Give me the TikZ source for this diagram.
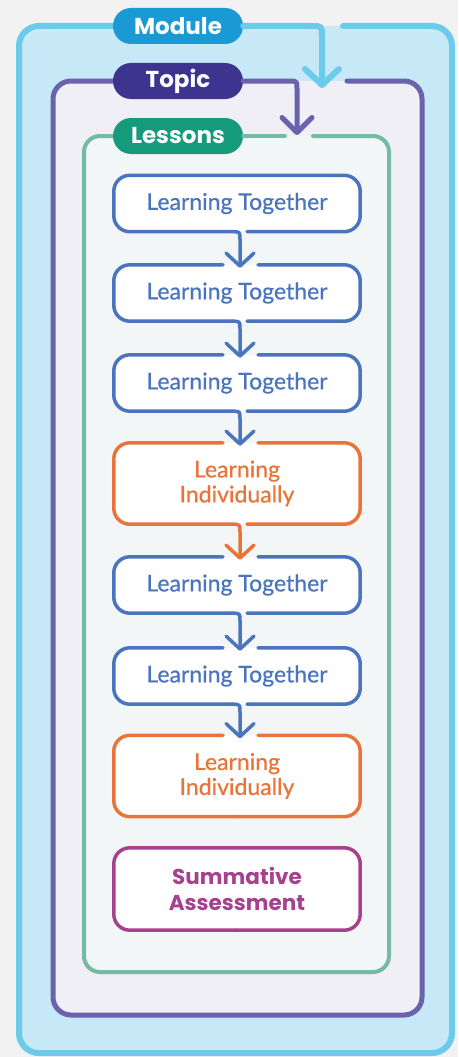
\documentclass[tikz,border=0pt]{standalone}
\usepackage{fontspec}
\setmainfont{Lato}
\newfontfamily\medfont{Lato}[FakeBold=0.6]
\newfontfamily\popfont{Poppins}
\usetikzlibrary{calc,arrows.meta}
\definecolor{bgc}{HTML}{F2F2F2}
\definecolor{modline}{HTML}{6CCAEA}
\definecolor{modfill}{HTML}{C7E8F6}
\definecolor{modpill}{HTML}{1A9AD5}
\definecolor{topline}{HTML}{6B62AE}
\definecolor{topfill}{HTML}{F0EFF6}
\definecolor{toppill}{HTML}{3C348F}
\definecolor{lesline}{HTML}{74BBA4}
\definecolor{lesfill}{HTML}{F2F6F6}
\definecolor{lespill}{HTML}{159B7C}
\definecolor{ltblue}{HTML}{4A74BE}
\definecolor{liorange}{HTML}{E8743A}
\definecolor{samag}{HTML}{A6418F}
\newcommand\bxborder[6]{%
  \draw[bxline, draw=#2, rounded corners=16pt] ($(#1.north)+(#3,0)$) -- (#1.north west) -- (#1.south west) -- ($(#1.south)+(#5,0)$);
  \draw[bxline, draw=#2, rounded corners=16pt] ($(#1.north)+(#4,0)$) -- (#1.north east) -- (#1.south east) -- ($(#1.south)+(#6,0)$);
}
\newcommand\bxconn[3]{%
  \draw[conn, draw=#3] ($(#1.south)+(-5,0)$) .. controls ($(#1.south)+(3,0)$) .. ($(#1.south)+(3,8)$) -- ($(#2.north)+(3,3)$);
}
\begin{document}
\begin{tikzpicture}[x=1pt,y=-1pt,line cap=round,line join=round]
\tikzset{
  bx/.style={fill=white, rounded corners=16pt, minimum width=246pt, inner sep=0pt, align=center, font=\medfont\fontsize{23}{25}\selectfont},
  lt/.style={bx, minimum height=56pt, text=ltblue},
  li/.style={bx, minimum height=81pt, text=liorange},
  sa/.style={bx, minimum height=82pt, text=samag, font=\popfont\bfseries\fontsize{21.5}{26}\selectfont},
  bxline/.style={line width=3.5pt},
  conn/.style={line width=3.5pt, -{Straight Barb[length=13pt,width=28pt,round]}},
  pill/.style={rounded corners=18pt, minimum width=130pt, minimum height=36pt, inner sep=0pt, text=white, font=\popfont\bfseries\fontsize{23}{26}\selectfont},
}
\useasboundingbox (0,0) rectangle (458,1057);
\fill[bgc] (0,0) rectangle (458,1057);
% container fills
\fill[modfill, rounded corners=20pt] (19,26) rectangle (452,1053);
\fill[topfill, rounded corners=18pt] (53,81) rectangle (422,1015);
\fill[lesfill, rounded corners=16pt] (84,136) rectangle (389,972);
% container borders
\draw[modline, line width=6pt, rounded corners=20pt] (343,26) -- (452,26) -- (452,1053) -- (19,1053) -- (19,26) -- (120,26);
\draw[topline, line width=5pt, rounded corners=18pt] (347,81) -- (422,81) -- (422,1015) -- (53,1015) -- (53,81) -- (120,81);
\draw[lesline, line width=4pt, rounded corners=16pt] (313,136) -- (389,136) -- (389,972) -- (84,972) -- (84,136) -- (120,136);
% pills
\node[pill, fill=modpill] (module) at (178,26) {Module};
\node[pill, fill=toppill] (topic) at (178,81) {Topic};
\node[pill, fill=lespill] (lessons) at (178,136) {Lessons};
\coordinate (topin) at (322,88);
\coordinate (lesin) at (297,135);
\draw[modline, line width=6pt, -{Straight Barb[length=16pt,width=34pt,round]}] (module.east) -- (312,26) .. controls (322,26) .. (322,36) -- (topin);
\draw[topline, line width=5pt, -{Straight Barb[length=15pt,width=30pt,round]}] (topic.east) -- (289,81) .. controls (297,81) .. (297,89) -- (lesin);
\draw[lesline, line width=4pt] (lessons.east) -- (285,136);
% lesson boxes
\node[lt] (b1) at (237,203.5) {Learning Together};
\node[lt] (b2) at (237,293) {Learning Together};
\node[lt] (b3) at (237,383) {Learning Together};
\node[li] (b4) at (237,483.5) {Learning\\Individually};
\node[lt] (b5) at (237,585) {Learning Together};
\node[lt] (b6) at (237,676) {Learning Together};
\node[li] (b7) at (237,776) {Learning\\Individually};
\node[sa] (b8) at (237,889) {Summative\\Assessment};
\bxborder{b1}{ltblue}{0}{0}{-5}{10}
\bxborder{b2}{ltblue}{-14}{21}{-5}{10}
\bxborder{b3}{ltblue}{-14}{21}{-5}{10}
\bxborder{b4}{liorange}{-14}{21}{-5}{10}
\bxborder{b5}{ltblue}{-14}{21}{-5}{10}
\bxborder{b6}{ltblue}{-14}{21}{-5}{10}
\bxborder{b7}{liorange}{-14}{21}{0}{0}
\bxborder{b8}{samag}{0}{0}{0}{0}
\bxconn{b1}{b2}{ltblue}
\bxconn{b2}{b3}{ltblue}
\bxconn{b3}{b4}{ltblue}
\bxconn{b4}{b5}{liorange}
\bxconn{b5}{b6}{ltblue}
\bxconn{b6}{b7}{ltblue}
\end{tikzpicture}
\end{document}
